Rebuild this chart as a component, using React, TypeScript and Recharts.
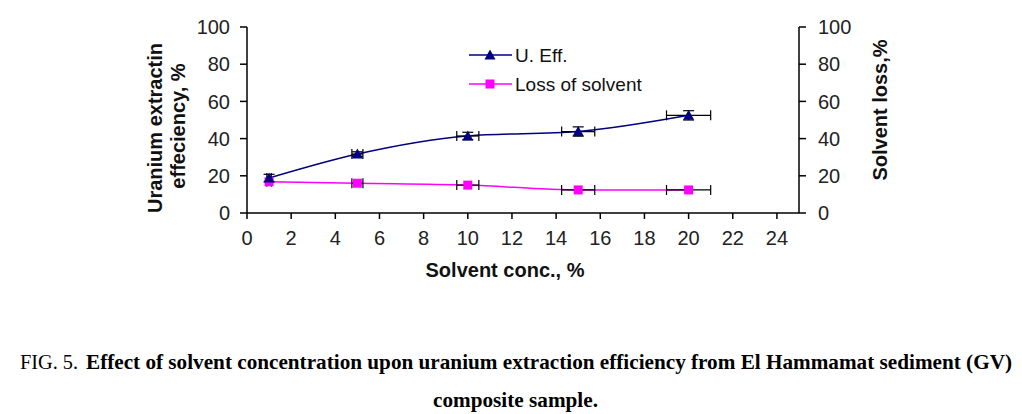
import React from 'react';
import { ComposedChart, Line, Scatter, XAxis, YAxis, ErrorBar } from 'recharts';

const concentrations = [1, 5, 10, 15, 20];
const uraniumEff = [18.8, 31.7, 41.4, 43.8, 52.5];
const solventLoss = [16.8, 16, 15, 12.4, 12.4];
const concError = [0.1, 0.25, 0.5, 0.75, 1];
const effError = [2, 1.2, 2, 2.5, 2.5];
const xTicks = [0, 2, 4, 6, 8, 10, 12, 14, 16, 18, 20, 22, 24];
const yTicks = [0, 20, 40, 60, 80, 100];
const seriesNames = ['U. Eff.', 'Loss of solvent'];

const rows = concentrations.map((c, i) => ({
  x: c,
  u: uraniumEff[i],
  l: solventLoss[i],
  ex: concError[i],
  ey: effError[i],
}));

const NAVY = '#000080';
const MAGENTA = '#ff00ff';
const FONT = '"Liberation Sans", Arial, sans-serif';
const SERIF = '"Liberation Serif", "Times New Roman", serif';

const Triangle = (p: any) => {
  const { cx, cy } = p;
  if (cx == null || cy == null) return null;
  return <polygon points={`${cx},${cy - 5.5} ${cx - 5.5},${cy + 4.5} ${cx + 5.5},${cy + 4.5}`} fill={NAVY} />;
};
const Square = (p: any) => {
  const { cx, cy } = p;
  if (cx == null || cy == null) return null;
  return <rect x={cx - 4.5} y={cy - 4.5} width={9} height={9} fill={MAGENTA} />;
};

const tickStyle = { fontSize: 20, fontFamily: FONT, fill: '#222' };

export default function App() {
  return (
    <div style={{ position: 'absolute', left: 0, top: 0, width: 1022, height: 414, background: '#fff' }}>
      <ComposedChart
        width={1022}
        height={300}
        data={rows}
        margin={{ top: 27, right: 163, left: 0, bottom: 27 }}
      >
        <XAxis
          dataKey="x"
          type="number"
          domain={[0, 25]}
          ticks={xTicks}
          interval={0}
          height={60}
          tick={tickStyle}
          tickSize={6}
          tickMargin={12}
          stroke="#000"
          strokeWidth={1.5}
          label={() => (
            <text x={505} y={277} textAnchor="middle" fontSize={20} fontWeight="bold" fontFamily={FONT} fill="#111">
              Solvent conc., %
            </text>
          )}
        />
        <YAxis
          yAxisId="left"
          domain={[0, 100]}
          ticks={yTicks}
          interval={0}
          width={247}
          tick={tickStyle}
          tickSize={7}
          tickMargin={10}
          stroke="#000"
          strokeWidth={1.5}
          label={() => (
            <g>
              <text x={155} y={128} transform="rotate(-90 155 128)" textAnchor="middle" dominantBaseline="central" fontSize={20} fontWeight="bold" fontFamily={FONT} fill="#111">
                Uranium extractin
              </text>
              <text x={178} y={126} transform="rotate(-90 178 126)" textAnchor="middle" dominantBaseline="central" fontSize={20} fontWeight="bold" fontFamily={FONT} fill="#111">
                effeciency, %
              </text>
            </g>
          )}
        />
        <YAxis
          yAxisId="right"
          orientation="right"
          domain={[0, 100]}
          ticks={yTicks}
          interval={0}
          width={60}
          tick={tickStyle}
          tickSize={7}
          tickMargin={12}
          stroke="#000"
          strokeWidth={1.5}
          label={() => (
            <text x={880} y={110} transform="rotate(-90 880 110)" textAnchor="middle" dominantBaseline="central" fontSize={20} fontWeight="bold" fontFamily={FONT} fill="#111">
              Solvent loss,%
            </text>
          )}
        />
        <Line yAxisId="left" type="monotone" dataKey="u" stroke={NAVY} strokeWidth={1.5} dot={false} isAnimationActive={false} />
        <Line yAxisId="right" type="monotone" dataKey="l" stroke={MAGENTA} strokeWidth={1.5} dot={false} isAnimationActive={false} />
        <Scatter yAxisId="right" dataKey="l" shape={Square} isAnimationActive={false}>
          <ErrorBar dataKey="ex" direction="x" width={5} stroke="#000" strokeWidth={1.2} />
        </Scatter>
        <Scatter yAxisId="left" dataKey="u" shape={Triangle} isAnimationActive={false}>
          <ErrorBar dataKey="ex" direction="x" width={5} stroke="#000" strokeWidth={1.2} />
          <ErrorBar dataKey="ey" direction="y" width={5.5} stroke="#000" strokeWidth={1.2} />
        </Scatter>
      </ComposedChart>
      <svg width={220} height={70} style={{ position: 'absolute', left: 465, top: 40 }}>
        <line x1={4} y1={15} x2={47} y2={15} stroke={NAVY} strokeWidth={1.5} />
        <polygon points="25,9.5 19.5,19.5 30.5,19.5" fill={NAVY} />
        <text x={50} y={22} fontSize={19} fontFamily={FONT} fill="#111">{seriesNames[0]}</text>
        <line x1={4} y1={44} x2={47} y2={44} stroke={MAGENTA} strokeWidth={1.5} />
        <rect x={20.5} y={39.5} width={9} height={9} fill={MAGENTA} />
        <text x={50} y={51} fontSize={19} fontFamily={FONT} fill="#111">{seriesNames[1]}</text>
      </svg>
      <svg width={1022} height={114} style={{ position: 'absolute', left: 0, top: 300 }}>
        <text x={20} y={69} fontSize={21} fontFamily={SERIF} fill="#000" textLength={58} lengthAdjust="spacingAndGlyphs">
          FIG. 5.
        </text>
        <text x={86} y={69} fontSize={21} fontWeight="bold" fontFamily={SERIF} fill="#000" textLength={926} lengthAdjust="spacingAndGlyphs">
          Effect of solvent concentration upon uranium extraction efficiency from El Hammamat sediment (GV)
        </text>
        <text x={433} y={107} fontSize={21} fontWeight="bold" fontFamily={SERIF} fill="#000" textLength={165} lengthAdjust="spacingAndGlyphs">
          composite sample.
        </text>
      </svg>
    </div>
  );
}
